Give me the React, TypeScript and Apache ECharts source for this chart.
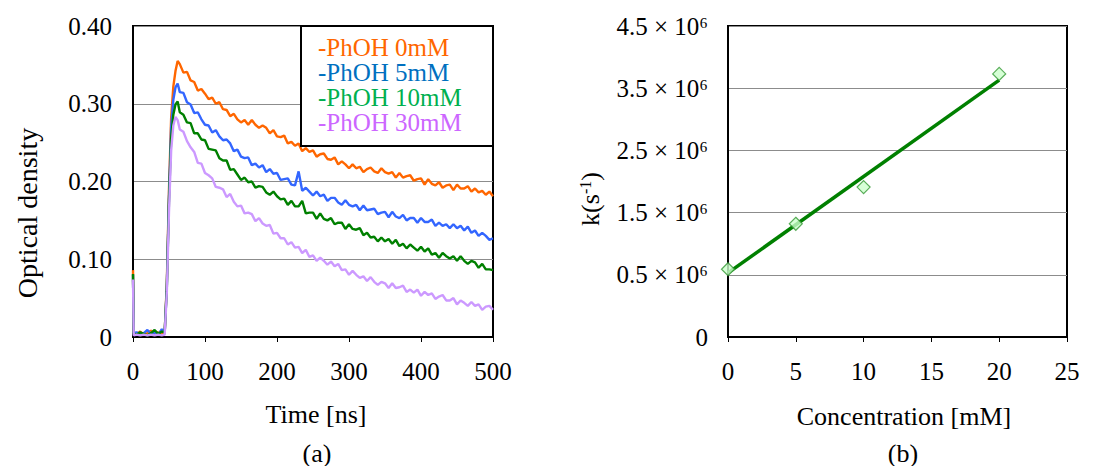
import React, { useEffect, useRef } from "react";
import * as echarts from "echarts";

// ---- Panel (a): transient absorption traces ----
const timeNs = [
  0, 1, 5, 10, 15, 20, 25, 30, 35, 40, 44, 47, 50, 53, 56, 59, 62,
  65, 70, 75, 80, 85, 90, 95, 100, 105, 110, 115, 120, 125, 130, 135, 140, 145, 150,
  155, 160, 165, 170, 175, 180, 185, 190, 195, 200, 205, 210, 215, 220, 225, 230, 235,
  240, 245, 250, 255, 260, 265, 270, 275, 280, 285, 290, 295, 300, 305, 310, 315, 320,
  325, 330, 335, 340, 345, 350, 355, 360, 365, 370, 375, 380, 385, 390, 395, 400, 405,
  410, 415, 420, 425, 430, 435, 440, 445, 450, 455, 460, 465, 470, 475, 480, 485, 490,
  495, 500,
];

const od0mM = [
  0.086, 0.006, 0.004, 0.007, 0.003, 0.005, 0.008, 0.004, 0.006, 0.003, 0.005, 0.07, 0.19, 0.282, 0.322, 0.342, 0.355,
  0.351, 0.34, 0.341, 0.33, 0.328, 0.317, 0.319, 0.313, 0.306, 0.308,
  0.3, 0.302, 0.293, 0.292, 0.284, 0.287, 0.28, 0.276, 0.279, 0.273,
  0.279, 0.273, 0.269, 0.272, 0.269, 0.262, 0.266, 0.258, 0.257, 0.259,
  0.249, 0.251, 0.246, 0.249, 0.239, 0.243, 0.238, 0.24, 0.232, 0.235,
  0.236, 0.229, 0.228, 0.231, 0.222, 0.226, 0.222, 0.217, 0.222, 0.217,
  0.219, 0.212, 0.216, 0.218, 0.213, 0.211, 0.217, 0.212, 0.21, 0.212,
  0.205, 0.211, 0.205, 0.207, 0.208, 0.201, 0.203, 0.204, 0.196, 0.203,
  0.197, 0.195, 0.199, 0.192, 0.195, 0.196, 0.189, 0.196, 0.191, 0.191,
  0.194, 0.187, 0.191, 0.186, 0.188, 0.183, 0.187, 0.181,
];

const od5mM = [
  0.08, 0.005, 0.006, 0.003, 0.005, 0.009, 0.004, 0.006, 0.003, 0.01, 0.005, 0.066, 0.182, 0.27, 0.305, 0.321, 0.326,
  0.315, 0.314, 0.302, 0.299, 0.288, 0.289, 0.28, 0.273, 0.272, 0.263,
  0.266, 0.258, 0.253, 0.254, 0.249, 0.239, 0.241, 0.232, 0.23, 0.231,
  0.221, 0.223, 0.218, 0.221, 0.212, 0.216, 0.21, 0.211, 0.202, 0.203,
  0.204, 0.196, 0.195, 0.213, 0.188, 0.192, 0.187, 0.182, 0.187, 0.181,
  0.183, 0.175, 0.179, 0.179, 0.173, 0.17, 0.176, 0.17, 0.168, 0.17,
  0.163, 0.169, 0.163, 0.164, 0.165, 0.158, 0.16, 0.161, 0.154, 0.161,
  0.155, 0.153, 0.157, 0.15, 0.153, 0.153, 0.147, 0.153, 0.148, 0.148,
  0.151, 0.143, 0.147, 0.143, 0.145, 0.14, 0.145, 0.14, 0.143, 0.137,
  0.142, 0.134, 0.137, 0.13, 0.134, 0.13, 0.125, 0.127,
];

const od10mM = [
  0.081, 0.004, 0.003, 0.006, 0.004, 0.002, 0.005, 0.009, 0.004, 0.007, 0.006, 0.064, 0.176, 0.256, 0.286, 0.299, 0.303,
  0.289, 0.286, 0.276, 0.275, 0.262, 0.262, 0.254, 0.253, 0.242, 0.241,
  0.24, 0.23, 0.227, 0.227, 0.215, 0.216, 0.209, 0.202, 0.205, 0.199,
  0.2, 0.192, 0.194, 0.193, 0.186, 0.183, 0.187, 0.181, 0.177, 0.178,
  0.17, 0.175, 0.168, 0.168, 0.175, 0.159, 0.16, 0.16, 0.152, 0.159,
  0.152, 0.15, 0.153, 0.145, 0.147, 0.147, 0.139, 0.145, 0.139, 0.138,
  0.14, 0.131, 0.134, 0.128, 0.129, 0.123, 0.128, 0.123, 0.126, 0.12,
  0.125, 0.117, 0.12, 0.114, 0.119, 0.115, 0.111, 0.116, 0.11, 0.114,
  0.106, 0.108, 0.102, 0.108, 0.104, 0.101, 0.104, 0.098, 0.104, 0.098,
  0.094, 0.098, 0.096, 0.089, 0.094, 0.087, 0.087, 0.086,
];

const od30mM = [
  0.074, 0.002, 0.003, 0.002, 0.003, 0.002, 0.003, 0.002, 0.003, 0.002, 0.003, 0.058, 0.162, 0.24, 0.272, 0.283, 0.279,
  0.267, 0.264, 0.252, 0.244, 0.238, 0.224, 0.223, 0.211, 0.208, 0.204,
  0.193, 0.192, 0.19, 0.18, 0.184, 0.174, 0.168, 0.169, 0.159, 0.16,
  0.158, 0.149, 0.153, 0.146, 0.143, 0.144, 0.133, 0.134, 0.127, 0.127,
  0.119, 0.122, 0.115, 0.116, 0.108, 0.112, 0.103, 0.105, 0.098, 0.102,
  0.098, 0.093, 0.097, 0.091, 0.094, 0.086, 0.087, 0.08, 0.085, 0.08,
  0.076, 0.078, 0.072, 0.077, 0.071, 0.067, 0.071, 0.069, 0.063, 0.069,
  0.063, 0.064, 0.066, 0.058, 0.061, 0.057, 0.061, 0.053, 0.058, 0.054,
  0.056, 0.049, 0.052, 0.054, 0.047, 0.047, 0.05, 0.042, 0.047, 0.044,
  0.04, 0.045, 0.04, 0.042, 0.035, 0.039, 0.04, 0.035,
];

const traceNames = ["-PhOH 0mM", "-PhOH 5mM", "-PhOH 10mM", "-PhOH 30mM"];
const traceValues = [od0mM, od5mM, od10mM, od30mM];
const traceLineColors = ["#FF6600", "#3366FF", "#008000", "#CC99FF"];
const traceLegendColors = ["#FF6600", "#0070C0", "#00B050", "#CC66FF"];

// ---- Panel (b): rate constant vs phenol concentration ----
const concMM = [0, 5, 10, 20];
const kMeasured = [0.59, 1.32, 1.91, 3.73]; // x10^6 s^-1, as read against the tick labels
const fitConcMM = [0, 20];
const fitK = [0.53, 3.63];
// the original's ticks are equally spaced but labelled 0, 0.5, 1.5, ...; tick i carries kTickLabels[i]
const kTickLabels = ["0", "0.5 × 10⁶", "1.5 × 10⁶", "2.5 × 10⁶", "3.5 × 10⁶", "4.5 × 10⁶"];
const kLabelOffset = 0.5; // tick labelled "0.5 × 10⁶" sits at axis position 1

const FONT = "Liberation Serif";

export default function App() {
  const ref = useRef<HTMLDivElement>(null);

  useEffect(() => {
    if (!ref.current) return;
    const chart = echarts.init(ref.current, undefined, { renderer: "svg" });

    const axisLine = { show: true, onZero: false, lineStyle: { color: "#000", width: 2 } };
    const xTick = { show: true, inside: false, length: 5, lineStyle: { color: "#000", width: 1 } };
    const splitLine = { show: true, lineStyle: { color: "#8c8c8c", width: 1 } };
    const labelBase = { color: "#000", fontSize: 25, fontFamily: FONT };

    const traceSeries = traceValues.map((vals, i) => ({
      type: "line",
      name: traceNames[i],
      xAxisIndex: 0,
      yAxisIndex: 0,
      showSymbol: false,
      symbol: "none",
      lineStyle: { color: traceLineColors[i], width: 2.4 },
      data: timeNs.map((t, j) => [t, vals[j]]),
      z: 2 + i,
    }));

    const centered = { align: "center", verticalAlign: "middle", textAlign: "center", textVerticalAlign: "middle" };

    const option: any = {
      animation: false,
      backgroundColor: "#fff",
      textStyle: { fontFamily: FONT },
      grid: [
        { left: 133, top: 26, width: 360, height: 311, show: true, borderColor: "#000", borderWidth: 2, backgroundColor: "transparent" },
        { left: 728, top: 26, width: 339, height: 311, show: true, borderColor: "#000", borderWidth: 2, backgroundColor: "transparent" },
      ],
      xAxis: [
        {
          gridIndex: 0, type: "value", min: 0, max: 500, interval: 100,
          axisLine, axisTick: xTick, splitLine: { show: false },
          axisLabel: { ...labelBase, margin: 22 },
        },
        {
          gridIndex: 1, type: "value", min: 0, max: 25, interval: 5,
          axisLine, axisTick: xTick, splitLine: { show: false },
          axisLabel: { ...labelBase, margin: 22 },
        },
      ],
      yAxis: [
        {
          gridIndex: 0, type: "value", min: 0, max: 0.4, interval: 0.1,
          axisLine, axisTick: { show: false }, splitLine,
          axisLabel: {
            ...labelBase, margin: 21,
            formatter: (v: number) => (v === 0 ? "0" : v.toFixed(2)),
          },
        },
        {
          gridIndex: 1, type: "value", min: 0, max: 5, interval: 1,
          axisLine, axisTick: { show: false }, splitLine,
          axisLabel: {
            ...labelBase, margin: 20,
            formatter: (v: number) => kTickLabels[Math.round(v)],
          },
        },
      ],
      series: [
        ...traceSeries,
        {
          type: "line",
          name: "fit",
          xAxisIndex: 1,
          yAxisIndex: 1,
          symbol: "none",
          lineStyle: { color: "#008000", width: 3.5 },
          data: fitConcMM.map((c, j) => [c, fitK[j] + kLabelOffset]),
          z: 3,
        },
        {
          type: "scatter",
          name: "k",
          xAxisIndex: 1,
          yAxisIndex: 1,
          symbol: "diamond",
          symbolSize: 13,
          itemStyle: { color: "#CCFFCC", borderColor: "#339933", borderWidth: 1.2 },
          data: concMM.map((c, j) => [c, kMeasured[j] + kLabelOffset]),
          clip: false,
          z: 5,
        },
      ],
      graphic: [
        {
          type: "rect", z: 100,
          shape: { x: 301, y: 26, width: 192, height: 120 },
          style: { fill: "#fff", stroke: "#000", lineWidth: 2 },
        },
        ...traceNames.map((name, i) => ({
          type: "text", z: 101,
          x: 318, y: 47 + i * 25,
          style: {
            text: name, fill: traceLegendColors[i], fontSize: 25, fontFamily: FONT,
            align: "left", verticalAlign: "middle", textAlign: "left", textVerticalAlign: "middle",
          },
        })),
        {
          type: "text", x: 27, y: 213, rotation: Math.PI / 2,
          style: { text: "Optical density", fill: "#000", fontSize: 28, fontFamily: FONT, ...centered },
        },
        {
          type: "text", x: 316, y: 414,
          style: { text: "Time [ns]", fill: "#000", fontSize: 26, fontFamily: FONT, ...centered },
        },
        {
          type: "text", x: 317, y: 453,
          style: { text: "(a)", fill: "#000", fontSize: 26, fontFamily: FONT, ...centered },
        },
        {
          type: "text", x: 590, y: 199, rotation: Math.PI / 2,
          style: {
            text: "{n|k(s}{s|-1}{n|)}", fill: "#000", fontSize: 26, fontFamily: FONT, ...centered,
            rich: {
              n: { fontSize: 26, fontFamily: FONT, fill: "#000" },
              s: { fontSize: 16, fontFamily: FONT, fill: "#000", verticalAlign: "top" },
            },
          },
        },
        {
          type: "text", x: 904, y: 416,
          style: { text: "Concentration [mM]", fill: "#000", fontSize: 26, fontFamily: FONT, ...centered },
        },
        {
          type: "text", x: 903, y: 453,
          style: { text: "(b)", fill: "#000", fontSize: 26, fontFamily: FONT, ...centered },
        },
      ],
    };

    chart.setOption(option);
    return () => chart.dispose();
  }, []);

  return (
    <div
      ref={ref}
      style={{ position: "absolute", left: 0, top: 0, width: 1105, height: 466, background: "#fff" }}
    />
  );
}
